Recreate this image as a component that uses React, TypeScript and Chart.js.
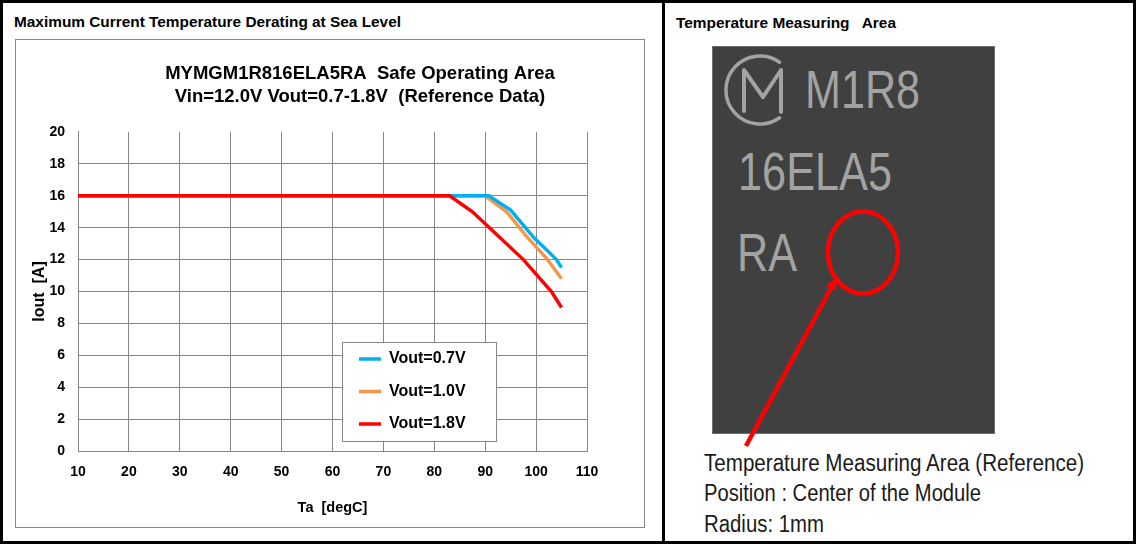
import React, { useEffect, useRef } from 'react';
import { Chart, registerables } from 'chart.js';

Chart.register(...registerables);

const FONT = "'Liberation Sans', Arial, sans-serif";

const panelTitleLeft = 'Maximum Current Temperature Derating at Sea Level';
const panelTitleRight = 'Temperature Measuring   Area';
const chartTitle = ['MYMGM1R816ELA5RA  Safe Operating Area', 'Vin=12.0V Vout=0.7-1.8V  (Reference Data)'];
const xAxisTitle = 'Ta  [degC]';
const yAxisTitle = 'Iout  [A]';
const xMin = 10;
const xMax = 110;
const xStep = 10;
const yMin = 0;
const yMax = 20;
const yStep = 2;

const seriesLabels = ['Vout=0.7V', 'Vout=1.0V', 'Vout=1.8V'];
const seriesColors = ['#00b0f0', '#f79646', '#ff0000'];
const seriesOrder = [1, 2, 0];
const ta07 = [10, 90.7, 95, 99.5, 104, 105];
const iout07 = [16, 16, 15.1, 13.4, 12.0, 11.5];
const ta10 = [10, 90, 94.2, 98, 102, 105];
const iout10 = [16, 16, 15, 13.5, 12.1, 10.8];
const ta18 = [10, 83, 87.5, 97.5, 103, 105];
const iout18 = [16, 16, 15, 12, 10, 9];

const moduleLines = ['M1R8', '16ELA5', 'RA'];
const noteLines = ['Temperature Measuring Area (Reference)', 'Position : Center of the Module', 'Radius: 1mm'];

const GRID = '#878787';

const placementPlugin = {
  id: 'placement',
  beforeDraw(chart: any) {
    const ca = chart.chartArea;
    const t = chart.titleBlock;
    if (t) {
      t.left = 60;
      t.right = chart.width;
      t.width = t.right - t.left;
    }
    const lg = chart.legend;
    if (lg) {
      lg.left = ca.left + 264.5;
      lg.top = ca.top + 202.5;
      lg.width = 150;
      lg.height = 200;
      lg.right = lg.left + lg.width;
      lg.bottom = lg.top + lg.height;
      if (!lg.__boxed) {
        const orig = lg.draw;
        lg.draw = function (...args: any[]) {
          const c = this.ctx;
          const a = this.chart.chartArea;
          c.save();
          c.fillStyle = '#ffffff';
          c.fillRect(a.left + 264, a.top + 210, 154, 99);
          c.strokeStyle = GRID;
          c.lineWidth = 1;
          c.strokeRect(a.left + 264 + 0.5, a.top + 210 + 0.5, 154, 99);
          c.restore();
          return orig.apply(this, args);
        };
        lg.__boxed = true;
      }
    }
  },
};

function toPoints(xs: number[], ys: number[]) {
  return xs.map((x, i) => ({ x, y: ys[i] }));
}

function DeratingChart() {
  const ref = useRef<HTMLCanvasElement | null>(null);
  useEffect(() => {
    if (!ref.current) return;
    Chart.defaults.font.family = FONT;
    Chart.defaults.color = '#000000';
    const series = [toPoints(ta07, iout07), toPoints(ta10, iout10), toPoints(ta18, iout18)];
    const chart = new Chart(ref.current, {
      type: 'line',
      data: {
        datasets: series.map((pts, i) => ({
          label: seriesLabels[i],
          data: pts,
          borderColor: seriesColors[i],
          backgroundColor: seriesColors[i],
          borderWidth: 3.5,
          pointRadius: 0,
          pointHoverRadius: 0,
          tension: 0,
          fill: false,
          order: seriesOrder[i],
          pointStyle: 'line',
        })),
      },
      options: {
        animation: false,
        responsive: true,
        maintainAspectRatio: false,
        layout: { padding: { left: 0, right: 57, top: 0, bottom: 0 } },
        plugins: {
          tooltip: { enabled: false },
          title: {
            display: true,
            text: chartTitle,
            color: '#000',
            font: { family: FONT, size: 18.5, weight: 'bold', lineHeight: 1.216 },
            padding: { top: 22.75, bottom: 24.25 },
          },
          legend: {
            display: true,
            position: 'chartArea' as any,
            align: 'start',
            labels: {
              usePointStyle: true,
              pointStyleWidth: 22,
              padding: 16.5,
              color: '#000',
              font: { family: FONT, size: 16, weight: 'bold' },
              sort: (a: any, b: any) => a.datasetIndex - b.datasetIndex,
            },
          },
        },
        scales: {
          x: {
            type: 'linear',
            min: xMin,
            max: xMax,
            ticks: { stepSize: xStep, padding: 12.6, color: '#000', font: { family: FONT, size: 14, weight: 'bold' } },
            grid: { color: GRID, lineWidth: 1, drawTicks: false },
            border: { color: GRID, width: 1 },
            title: {
              display: true,
              text: xAxisTitle,
              color: '#000',
              font: { family: FONT, size: 14.5, weight: 'bold' },
              padding: { top: 0, bottom: 10.3 },
            },
            afterFit: (s: any) => {
              s.height = 76;
            },
          },
          y: {
            type: 'linear',
            min: yMin,
            max: yMax,
            ticks: { stepSize: yStep, padding: 13, color: '#000', font: { family: FONT, size: 14, weight: 'bold' } },
            grid: {
              color: (ctx: any) => (ctx.tick && ctx.tick.value === yMax ? 'rgba(0,0,0,0)' : GRID),
              lineWidth: 1,
              drawTicks: false,
            },
            border: { color: GRID, width: 1 },
            title: {
              display: true,
              text: yAxisTitle,
              color: '#000',
              font: { family: FONT, size: 16, weight: 'bold' },
              padding: { top: 14.4, bottom: 0 },
            },
            afterFit: (s: any) => {
              s.width = 62;
            },
          },
        },
      },
      plugins: [placementPlugin],
    } as any);
    return () => chart.destroy();
  }, []);
  return (
    <div style={{ position: 'absolute', left: 16, top: 40, width: 628, height: 487 }}>
      <canvas ref={ref} />
    </div>
  );
}

function Panels() {
  const ax = 746, ay = 446, tx = 837, ty = 277;
  const dx = tx - ax, dy = ty - ay;
  const len = Math.sqrt(dx * dx + dy * dy);
  const ux = dx / len, uy = dy / len;
  const hl = 13, hw = 5.5;
  const bxp = tx - ux * hl, byp = ty - uy * hl;
  const head = `${tx},${ty} ${bxp - uy * hw},${byp + ux * hw} ${bxp + uy * hw},${byp - ux * hw}`;
  return (
    <svg width={1136} height={544} style={{ position: 'absolute', left: 0, top: 0 }}>
      <rect x={0} y={0} width={1136} height={544} fill="#ffffff" />
      <rect x={0} y={0} width={1136} height={3} fill="#000" />
      <rect x={0} y={541} width={1136} height={3} fill="#000" />
      <rect x={0} y={0} width={3} height={544} fill="#000" />
      <rect x={1133} y={0} width={3} height={544} fill="#000" />
      <rect x={662} y={0} width={3} height={544} fill="#000" />
      <text x={14} y={27} fontFamily={FONT} fontSize={15} fontWeight="bold" fill="#000"
        textLength={387} lengthAdjust="spacingAndGlyphs">{panelTitleLeft}</text>
      <rect x={15.5} y={39.5} width={629} height={488} fill="none" stroke="#868686" strokeWidth={1} />
      <text x={676} y={28} fontFamily={FONT} fontSize={15} fontWeight="bold" fill="#000"
        textLength={220} lengthAdjust="spacingAndGlyphs" style={{ whiteSpace: 'pre' }}>{panelTitleRight}</text>
      <rect x={712.5} y={46.5} width={282} height={387} fill="#404040" stroke="#6e6e6e" strokeWidth={1} />
      <path d="M 779.5 62.2 A 34 34 0 1 0 779.5 117.8" fill="none" stroke="#a3a3a3" strokeWidth={3.5} strokeLinecap="round" />
      <path d="M 744 111 L 744 70 L 763 97 L 781 70 L 781 112" fill="none" stroke="#a3a3a3" strokeWidth={4}
        strokeLinecap="round" strokeLinejoin="round" />
      <text x={805} y={108} fontFamily={FONT} fontSize={53} fill="#a3a3a3" textLength={115} lengthAdjust="spacingAndGlyphs">{moduleLines[0]}</text>
      <text x={738} y={190} fontFamily={FONT} fontSize={53} fill="#a3a3a3" textLength={154} lengthAdjust="spacingAndGlyphs">{moduleLines[1]}</text>
      <text x={737} y={271} fontFamily={FONT} fontSize={53} fill="#a3a3a3" textLength={60} lengthAdjust="spacingAndGlyphs">{moduleLines[2]}</text>
      <ellipse cx={863} cy={252.5} rx={35} ry={41} fill="none" stroke="#ff0000" strokeWidth={4.5} />
      <line x1={ax} y1={ay} x2={bxp} y2={byp} stroke="#ff0000" strokeWidth={4.5} />
      <polygon points={head} fill="#ff0000" />
      <text x={704} y={471} fontFamily={FONT} fontSize={23} fill="#1a1a1a" textLength={380} lengthAdjust="spacingAndGlyphs">{noteLines[0]}</text>
      <text x={704} y={501} fontFamily={FONT} fontSize={23} fill="#1a1a1a" textLength={277} lengthAdjust="spacingAndGlyphs">{noteLines[1]}</text>
      <text x={704} y={532} fontFamily={FONT} fontSize={23} fill="#1a1a1a" textLength={120} lengthAdjust="spacingAndGlyphs">{noteLines[2]}</text>
    </svg>
  );
}

export default function App() {
  return (
    <div style={{ position: 'absolute', left: 0, top: 0, width: 1136, height: 544, background: '#fff', overflow: 'hidden' }}>
      <Panels />
      <DeratingChart />
    </div>
  );
}
